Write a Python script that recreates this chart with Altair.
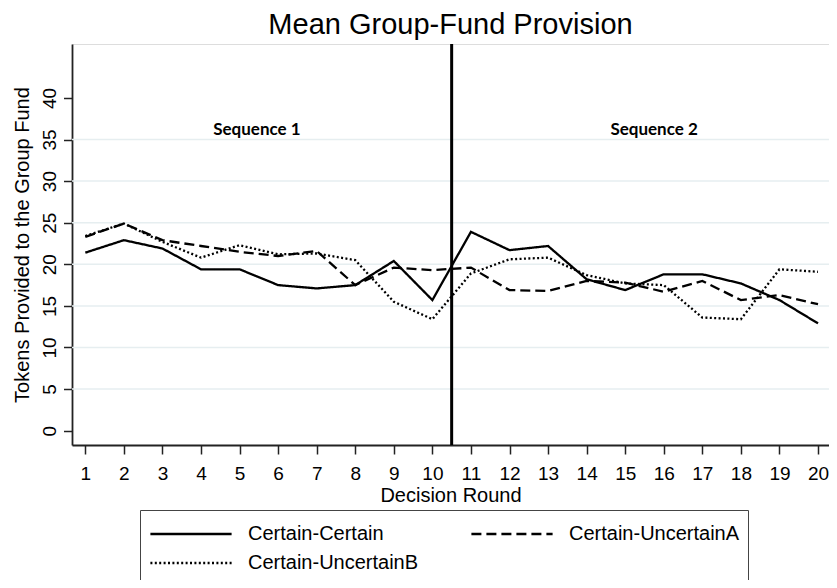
import altair as alt
import pandas as pd

rounds = list(range(1, 21))
certain_certain = [21.4, 22.9, 21.9, 19.4, 19.4, 17.5, 17.1, 17.5, 20.4, 15.7,
                   23.9, 21.7, 22.2, 18.2, 16.9, 18.8, 18.8, 17.7, 15.7, 12.9]
certain_uncertain_a = [23.3, 24.9, 22.9, 22.2, 21.5, 21.0, 21.6, 17.5, 19.6, 19.3,
                       19.6, 16.9, 16.8, 18.0, 17.8, 16.7, 18.0, 15.7, 16.3, 15.2]
certain_uncertain_b = [23.4, 24.9, 22.7, 20.8, 22.3, 21.2, 21.3, 20.5, 15.5, 13.4,
                       18.9, 20.6, 20.8, 18.7, 17.7, 17.5, 13.6, 13.4, 19.4, 19.1]
series_names = ["Certain-Certain", "Certain-UncertainA", "Certain-UncertainB"]
y_ticks = [0, 5, 10, 15, 20, 25, 30, 35, 40]
grid_values = [5, 10, 15, 20, 25, 30, 35]
split_round = [10.5]
seq_labels = ["Sequence 1", "Sequence 2"]
seq_x = [5.45, 15.75]
seq_y = [36.1, 36.1]

rows = []
for name, vals in zip(series_names, [certain_certain, certain_uncertain_a, certain_uncertain_b]):
    for r, v in zip(rounds, vals):
        rows.append({"round": r, "value": v, "series": name})
df = pd.DataFrame(rows)

FONT = "Liberation Sans"
x_scale = alt.Scale(domain=[0.655, 20.285], nice=False, zero=False)
y_scale = alt.Scale(domain=[-1.72, 46.48], nice=False, zero=False)

grid = alt.Chart(pd.DataFrame({"g": grid_values})).mark_rule(
    color="#e6eef0", strokeWidth=1.5
).encode(y=alt.Y("g:Q", scale=y_scale))

lines = alt.Chart(df).mark_line(color="black", strokeWidth=2.3, clip=True).encode(
    x=alt.X("round:Q", scale=x_scale,
            axis=alt.Axis(values=rounds, tickCount=40, format="d",
                          title="Decision Round", grid=False,
                          tickSize=9, tickWidth=1.5, tickColor="#222",
                          domainColor="#222", domainWidth=1.8,
                          labelFont=FONT, labelFontSize=19, labelColor="black",
                          labelPadding=10, labelOverlap=False,
                          titleFont=FONT, titleFontSize=20,
                          titleFontWeight="normal", titleColor="black",
                          titlePadding=2, labelFlush=False)),
    y=alt.Y("value:Q", scale=y_scale,
            axis=alt.Axis(values=y_ticks, tickCount=20, format="d",
                          title="Tokens Provided to the Group Fund",
                          grid=False, tickSize=8.5, tickWidth=1.5, tickColor="#222",
                          domainColor="#222", domainWidth=1.8,
                          labelFont=FONT, labelFontSize=19, labelColor="black",
                          labelAngle=270, labelPadding=4, labelFlush=False,
                          labelOverlap=False,
                          titleFont=FONT, titleFontSize=20, titleFontWeight="normal",
                          titleColor="black", titlePadding=8)),
    strokeDash=alt.StrokeDash(
        "series:N",
        scale=alt.Scale(domain=series_names, range=[[1, 0], [10, 5], [2, 2.4]]),
        legend=alt.Legend(
            title=None, orient="none", legendX=68, legendY=466, columns=2,
            direction="horizontal",
            symbolType="M-2.8,0H2.8", symbolSize=841, symbolStrokeWidth=2.3,
            symbolStrokeColor="black", symbolFillColor="transparent",
            symbolOffset=27,
            labelFont=FONT, labelFontSize=20, labelColor="black", labelOffset=41,
            labelLimit=400, columnPadding=47, rowPadding=3, padding=8,
            strokeColor="#444", fillColor="white",
        ),
    ),
    detail="series:N",
)

vline = alt.Chart(pd.DataFrame({"x": split_round})).mark_rule(
    color="black", strokeWidth=3
).encode(x=alt.X("x:Q", scale=x_scale))

seq = alt.Chart(pd.DataFrame({"t": seq_labels, "x": seq_x, "y": seq_y})).mark_text(
    font="Lato", fontSize=17, fontWeight="bold", color="black"
).encode(x=alt.X("x:Q", scale=x_scale), y=alt.Y("y:Q", scale=y_scale), text="t:N")

chart = alt.layer(grid, lines, vline, seq).properties(
    width=757, height=401,
    title=alt.TitleParams("Mean Group-Fund Provision", font=FONT, fontSize=29,
                          fontWeight="normal", color="black", offset=3),
    autosize=alt.AutoSizeParams(type="none"),
    padding={"left": 64, "top": 36, "right": 0, "bottom": 135},
).configure_view(stroke=None).configure(background="white")

chart.save("out.html", embed_options={"renderer": "svg", "actions": False})
